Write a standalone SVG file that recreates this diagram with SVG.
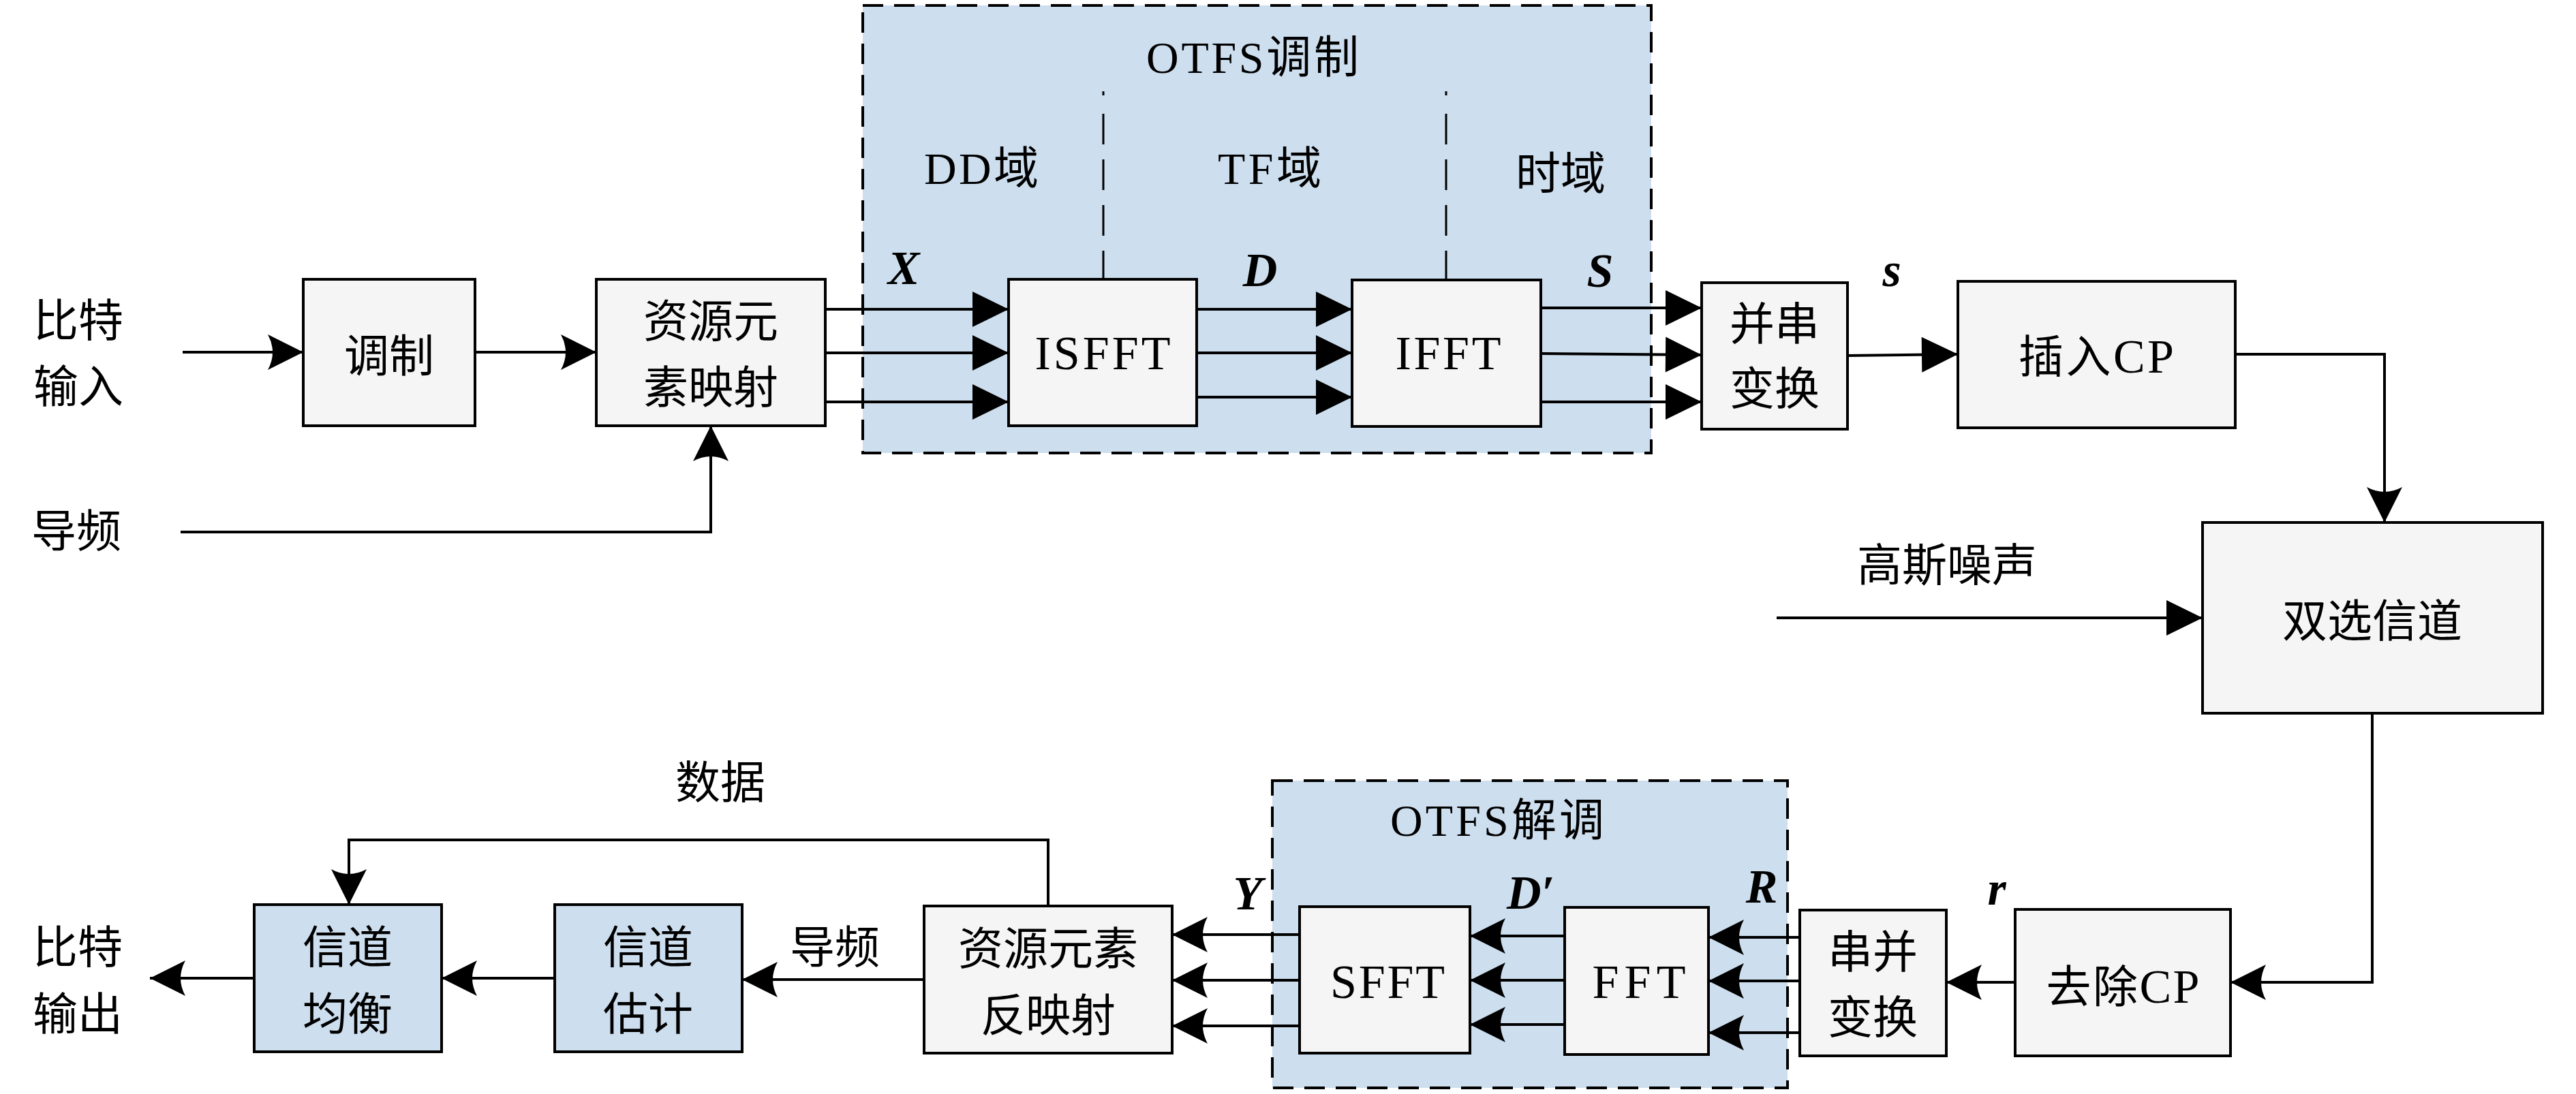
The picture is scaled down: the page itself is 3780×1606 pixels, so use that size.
<svg xmlns="http://www.w3.org/2000/svg" width="3780" height="1606" viewBox="0 0 3780 1606">
<defs>
<style>
.box{fill:#f5f5f5;stroke:#000;stroke-width:4}
.bbox{fill:#cddeee;stroke:#000;stroke-width:4}
.grp{fill:#cddeee;stroke:#000;stroke-width:4;stroke-dasharray:30 16}
.sep{stroke:#000;stroke-width:3;fill:none}
.ln{fill:none;stroke:#000;stroke-width:4;stroke-linejoin:miter}
.a1{marker-end:url(#tri)}
.a2{marker-end:url(#stl)}
text{font-family:"Liberation Serif","Noto Sans CJK SC",serif;font-size:66px;text-anchor:middle;fill:#000}
.lat{font-size:70px}
.m{font-style:italic;font-weight:bold;font-size:70px}
</style>
<marker id="tri" markerUnits="userSpaceOnUse" markerWidth="60" markerHeight="60" viewBox="-56 -30 60 60" refX="0" refY="0" orient="auto">
<path d="M0,0 L-53,-26 L-53,26 Z" fill="#000"/>
</marker>
<marker id="stl" markerUnits="userSpaceOnUse" markerWidth="60" markerHeight="60" viewBox="-56 -30 60 60" refX="0" refY="0" orient="auto">
<path d="M0,0 L-52,-26 Q-38,0 -52,26 Z" fill="#000"/>
</marker>
</defs>
<rect width="3780" height="1606" fill="#fff"/>

<g id="otfs-mod">
<rect class="grp" x="1266" y="8" width="1157" height="657"/>
<text x="1838" y="107" textLength="312" lengthAdjust="spacing">OTFS调制</text>
<line class="sep" x1="1619" y1="134" x2="1619" y2="140"/>
<line class="sep" x1="1619" y1="167" x2="1619" y2="410" stroke-dasharray="45 22"/>
<line class="sep" x1="2122" y1="134" x2="2122" y2="140"/>
<line class="sep" x1="2122" y1="167" x2="2122" y2="411" stroke-dasharray="45 22"/>
<text x="1440" y="270" textLength="168" lengthAdjust="spacing">DD域</text>
<text x="1863" y="270" textLength="152" lengthAdjust="spacing">TF域</text>
<text x="2290" y="278">时域</text>
</g>

<g id="otfs-demod">
<rect class="grp" x="1867" y="1146" width="756" height="451"/>
<text x="2197" y="1227" textLength="314" lengthAdjust="spacing">OTFS解调</text>
</g>

<g id="connectors">
<path class="ln a2" d="M268,517 H445"/>
<path class="ln a2" d="M697,517 H875"/>
<path class="ln a2" d="M265,781 H1043 V625"/>
<path class="ln a1" d="M1211,454 H1480"/>
<path class="ln a1" d="M1211,518 H1480"/>
<path class="ln a1" d="M1211,590 H1480"/>
<path class="ln a1" d="M1756,454 H1984"/>
<path class="ln a1" d="M1756,518 H1984"/>
<path class="ln a1" d="M1756,583 H1984"/>
<path class="ln a1" d="M2261,452 H2497"/>
<path class="ln a1" d="M2261,519 L2497,521"/>
<path class="ln a1" d="M2261,590 H2497"/>
<path class="ln a1" d="M2711,522 L2873,520"/>
<path class="ln a2" d="M3280,520 H3499 V767"/>
<path class="ln a1" d="M2607,907 H3232"/>
<path class="ln a2" d="M3481,1047 V1442 H3273"/>
<path class="ln a2" d="M2957,1442 H2856"/>
<path class="ln a2" d="M2641,1376 H2507"/>
<path class="ln a2" d="M2641,1440 H2507"/>
<path class="ln a2" d="M2641,1516 H2507"/>
<path class="ln a2" d="M2296,1374 H2157"/>
<path class="ln a2" d="M2296,1439 H2157"/>
<path class="ln a2" d="M2296,1504 H2157"/>
<path class="ln a2" d="M1907,1372 H1720"/>
<path class="ln a2" d="M1907,1439 H1720"/>
<path class="ln a2" d="M1907,1506 H1720"/>
<path class="ln a2" d="M1356,1438 H1089"/>
<path class="ln a2" d="M814,1436 H648"/>
<path class="ln a2" d="M373,1436 H220"/>
<path class="ln a2" d="M1538,1330 V1233 H512 V1328"/>
</g>

<g id="mod"><rect class="box" x="445" y="410" width="252" height="215"/><text x="571" y="546">调制</text></g>
<g id="re-map"><rect class="box" x="875" y="410" width="336" height="215"/><text x="1043" y="495">资源元</text><text x="1043" y="592">素映射</text></g>
<g id="isfft"><rect class="box" x="1480" y="410" width="276" height="215"/><text class="lat" x="1618" y="542" textLength="199" lengthAdjust="spacing">ISFFT</text></g>
<g id="ifft"><rect class="box" x="1984" y="411" width="277" height="215"/><text class="lat" x="2125" y="542" textLength="155" lengthAdjust="spacing">IFFT</text></g>
<g id="p2s"><rect class="box" x="2497" y="415" width="214" height="215"/><text x="2604" y="499">并串</text><text x="2604" y="594">变换</text></g>
<g id="add-cp"><rect class="box" x="2873" y="413" width="407" height="215"/><text x="3076" y="547" textLength="228" lengthAdjust="spacing">插入<tspan class="lat">CP</tspan></text></g>
<g id="channel"><rect class="box" x="3232" y="767" width="499" height="280"/><text x="3481" y="935">双选信道</text></g>
<g id="rm-cp"><rect class="box" x="2957" y="1335" width="316" height="215"/><text x="3115" y="1472" textLength="225" lengthAdjust="spacing">去除<tspan class="lat">CP</tspan></text></g>
<g id="s2p"><rect class="box" x="2641" y="1336" width="215" height="214"/><text x="2748" y="1421">串并</text><text x="2748" y="1517">变换</text></g>
<g id="fft"><rect class="box" x="2296" y="1332" width="211" height="216"/><text class="lat" x="2405" y="1465" textLength="137" lengthAdjust="spacing">FFT</text></g>
<g id="sfft"><rect class="box" x="1907" y="1331" width="250" height="215"/><text class="lat" x="2036" y="1465" textLength="168" lengthAdjust="spacing">SFFT</text></g>
<g id="re-demap"><rect class="box" x="1356" y="1330" width="364" height="216"/><text x="1538" y="1416">资源元素</text><text x="1538" y="1514">反映射</text></g>
<g id="ch-est"><rect class="bbox" x="814" y="1328" width="275" height="216"/><text x="951" y="1414">信道</text><text x="951" y="1512">估计</text></g>
<g id="ch-eq"><rect class="bbox" x="373" y="1328" width="275" height="216"/><text x="510" y="1414">信道</text><text x="510" y="1512">均衡</text></g>

<g id="labels">
<text x="115" y="494">比特</text>
<text x="115" y="591">输入</text>
<text x="112" y="803">导频</text>
<text x="2857" y="853">高斯噪声</text>
<text x="1057" y="1172">数据</text>
<text x="1225" y="1414">导频</text>
<text x="114" y="1414">比特</text>
<text x="114" y="1512">输出</text>
<text class="m" x="1326" y="417">X</text>
<text class="m" x="1849" y="420">D</text>
<text class="m" x="2348" y="421">S</text>
<text class="m" x="2776" y="420">s</text>
<text class="m" x="1831" y="1335">Y</text>
<text class="m" x="2246" y="1334">D′</text>
<text class="m" x="2585" y="1325">R</text>
<text class="m" x="2930" y="1328">r</text>
</g>
</svg>
